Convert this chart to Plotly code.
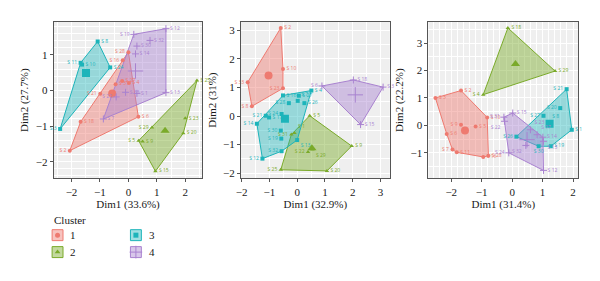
import plotly.graph_objects as go

# ---------------- data ----------------
# Panel 1: Dim1 (33.6%) / Dim2 (27.7%)
p1_c1_lab = ["S 28", "S 16", "S 27", "S 4", "S 31", "S 21", "S 18", "S 2", "S 6"]
p1_c1_x = [0.0, -0.20, -0.22, 0.02, -0.45, -0.99, -1.68, -2.06, 0.35]
p1_c1_y = [1.08, 0.85, 0.27, 0.21, 0.18, -0.09, -0.88, -1.69, -0.74]
p1_c2_lab = ["S 25", "S 23", "S 20", "S 15", "S 5", "S 9", "S 29"]
p1_c2_x = [2.41, 2.00, 1.93, 0.95, 0.36, 0.50, 0.83]
p1_c2_y = [0.28, -0.78, -1.20, -2.27, -1.41, -1.43, -1.04]
p1_c3_lab = ["S 8", "S 11", "S 10", "S 24", "S 3"]
p1_c3_x = [-1.08, -1.68, -1.63, -0.64, -2.40]
p1_c3_y = [1.38, 0.78, 0.73, 0.65, -1.08]
p1_c4_lab = ["S 19", "S 12", "S 32", "S 30", "S 14", "S 13", "S 1", "S 7", "S 22", "S 33"]
p1_c4_x = [0.19, 1.32, 0.76, 0.30, 0.25, 1.32, 0.30, -0.88, -0.43, -0.10]
p1_c4_y = [1.58, 1.74, 1.41, 1.25, 1.03, -0.06, -0.08, -0.80, -0.18, -0.05]
p1_cent_x = [-0.57, 1.29, -1.49, 0.25]
p1_cent_y = [-0.08, -1.13, 0.49, 0.55]

# Panel 2: Dim1 (32.9%) / Dim2 (31%)
p2_c1_lab = ["S 2", "S 10", "S 23", "S 8", "S 33"]
p2_c1_x = [-0.59, -0.51, -0.51, -1.63, -1.78]
p2_c1_y = [3.08, 1.64, 0.97, 0.34, 1.18]
p2_c2_lab = ["S 5", "S 9", "S 20", "S 25", "S 31", "S 1", "S 22", "S 29"]
p2_c2_x = [0.45, 1.96, 1.07, -0.59, -0.21, -0.10, 0.39, 0.55]
p2_c2_y = [0.01, -1.05, -1.92, -1.88, -0.65, -0.59, -1.26, -1.17]
p2_c3_lab = ["S 4", "S 16", "S 27", "S 28", "S 7", "S 26", "S 24", "S 21",
             "S 17", "S 14", "S 30", "S 19", "S 32", "S 12", "S 13"]
p2_c3_x = [0.51, -0.51, 0.06, -0.30, 0.02, 0.26, -0.56, -1.13,
           -1.01, -1.45, -0.59, -0.57, -0.56, -1.25, 0.00]
p2_c3_y = [0.89, 0.72, 0.71, 0.45, 0.53, 0.45, 0.07, 0.01,
           -0.05, -0.27, -0.51, -0.79, -1.23, -1.49, -0.84]
p2_c4_lab = ["S 6", "S 18", "S 3", "S 15"]
p2_c4_x = [0.89, 2.02, 3.09, 2.28]
p2_c4_y = [1.05, 1.26, 1.01, -0.30]
p2_cent_x = [-1.03, 0.53, -0.44, 2.09]
p2_cent_y = [1.42, -1.13, -0.10, 0.74]

# Panel 3: Dim1 (31.4%) / Dim2 (22.2%)
p3_c1_lab = ["S 3", "S 2", "S 10", "S 28", "S 16", "S 11", "S 7", "S 6", "S 9", "S 5"]
p3_c1_x = [-2.52, -1.68, -0.82, -0.78, -0.95, -1.82, -1.96, -2.15, -1.68, -1.20]
p3_c1_y = [1.00, 1.27, 0.29, -1.11, -1.15, -0.98, -0.88, -0.31, 0.02, -0.04]
p3_c2_lab = ["S 18", "S 29", "S 4"]
p3_c2_x = [-0.14, 1.41, -0.95]
p3_c2_y = [3.55, 1.98, 1.12]
p3_c3_lab = ["S 21", "S 1", "S 19", "S 30", "S 26", "S 27", "S 20", "S 8"]
p3_c3_x = [1.79, 1.96, 1.27, 0.87, 0.14, 1.03, 1.58, 1.20]
p3_c3_y = [1.32, -0.16, -0.76, -0.76, -0.41, 0.35, 0.63, 0.11]
p3_c4_lab = ["S 31", "S 15", "S 22", "S 24", "S 12", "S 23", "S 17", "S 14", "S 13", "S 32"]
p3_c4_x = [-0.27, 0.02, -0.25, -0.11, 1.03, 0.60, 0.82, 1.01, 1.03, 0.45]
p3_c4_y = [0.30, 0.45, 0.15, -1.00, -1.64, -0.16, -0.34, -0.43, -0.58, -0.73]
p3_cent_x = [-1.55, 0.11, 1.23, 0.49]
p3_cent_y = [-0.19, 2.24, 0.06, -0.52]

axis_titles = [("Dim1 (33.6%)", "Dim2 (27.7%)"),
               ("Dim1 (32.9%)", "Dim2 (31%)"),
               ("Dim1 (31.4%)", "Dim2 (22.2%)")]
x_ticks = [[-2, -1, 0, 1, 2], [-2, -1, 0, 1, 2, 3], [-2, -1, 0, 1, 2]]
y_ticks = [[-2, -1, 0, 1], [-2, -1, 0, 1, 2, 3], [-1, 0, 1, 2, 3]]
clusters = ["1", "2", "3", "4"]

# ---------------- styling ----------------
COLORS = ["#EE7A70", "#7AAA2A", "#1DB4BA", "#A982D0"]
FILLS = ["rgba(238,122,112,0.45)", "rgba(122,170,42,0.45)",
         "rgba(29,180,186,0.42)", "rgba(169,130,208,0.45)"]
SYMBOLS = ["circle", "triangle-up", "square", "cross-thin"]
SERIF = "Liberation Serif"
INK = "#1a1a1a"

X_RANGES = [[-2.63, 2.60], [-2.02, 3.33], [-2.75, 2.17]]
Y_RANGES = [[-2.47, 1.93], [-2.18, 3.29], [-1.93, 3.77]]
W, H = 600, 281
PX_X = [(49, 199), (238, 388), (427, 578)]
PX_Y = (22, 179)

LEFT_LABELS = {
    (0, "S 19"), (0, "S 2"), (0, "S 3"), (0, "S 11"), (0, "S 28"), (0, "S 16"),
    (0, "S 5"), (0, "S 29"), (0, "S 22"), (0, "S 21"),
    (1, "S 33"), (1, "S 8"), (1, "S 23"), (1, "S 14"), (1, "S 12"), (1, "S 32"),
    (1, "S 30"), (1, "S 19"), (1, "S 24"), (1, "S 28"), (1, "S 21"), (1, "S 25"),
    (1, "S 22"), (1, "S 6"), (1, "S 31"),
    (2, "S 4"), (2, "S 7"), (2, "S 9"), (2, "S 31"), (2, "S 22"), (2, "S 26"),
    (2, "S 32"), (2, "S 24"), (2, "S 27"), (2, "S 20"), (2, "S 21"),
}
OTHER_POS = {
    (1, "S 1"): "top right", (1, "S 13"): "bottom right",
    (1, "S 29"): "bottom right", (1, "S 7"): "top right",
    (2, "S 23"): "top right", (2, "S 13"): "bottom right", (2, "S 17"): "top right",
    (2, "S 30"): "bottom center", (2, "S 8"): "top right", (2, "S 22"): "bottom left",
    (2, "S 32"): "bottom left",
}

panels = [
    [(p1_c1_lab, p1_c1_x, p1_c1_y), (p1_c2_lab, p1_c2_x, p1_c2_y),
     (p1_c3_lab, p1_c3_x, p1_c3_y), (p1_c4_lab, p1_c4_x, p1_c4_y), (p1_cent_x, p1_cent_y)],
    [(p2_c1_lab, p2_c1_x, p2_c1_y), (p2_c2_lab, p2_c2_x, p2_c2_y),
     (p2_c3_lab, p2_c3_x, p2_c3_y), (p2_c4_lab, p2_c4_x, p2_c4_y), (p2_cent_x, p2_cent_y)],
    [(p3_c1_lab, p3_c1_x, p3_c1_y), (p3_c2_lab, p3_c2_x, p3_c2_y),
     (p3_c3_lab, p3_c3_x, p3_c3_y), (p3_c4_lab, p3_c4_x, p3_c4_y), (p3_cent_x, p3_cent_y)],
]


def hull(xs, ys):
    pts = sorted(set(zip(xs, ys)))
    if len(pts) < 3:
        return pts

    def cross(o, a, b):
        return (a[0] - o[0]) * (b[1] - o[1]) - (a[1] - o[1]) * (b[0] - o[0])

    lower, upper = [], []
    for p in pts:
        while len(lower) >= 2 and cross(lower[-2], lower[-1], p) <= 0:
            lower.pop()
        lower.append(p)
    for p in reversed(pts):
        while len(upper) >= 2 and cross(upper[-2], upper[-1], p) <= 0:
            upper.pop()
        upper.append(p)
    return lower[:-1] + upper[:-1]


def label_pos(pi, l):
    if (pi, l) in OTHER_POS:
        return OTHER_POS[(pi, l)]
    return "middle left" if (pi, l) in LEFT_LABELS else "middle right"


fig = go.Figure()

for pi, panel in enumerate(panels):
    sfx = "" if pi == 0 else str(pi + 1)
    xa, ya = "x" + sfx, "y" + sfx
    cent_x, cent_y = panel[4]
    for ci in range(4):
        lab, xs, ys = panel[ci]
        h = hull(xs, ys)
        hx = [p[0] for p in h] + [h[0][0]]
        hy = [p[1] for p in h] + [h[0][1]]
        fig.add_trace(go.Scatter(x=hx, y=hy, mode="lines", fill="toself",
                                 fillcolor=FILLS[ci],
                                 line=dict(color=COLORS[ci], width=1),
                                 xaxis=xa, yaxis=ya, hoverinfo="skip",
                                 showlegend=False))
    for ci in range(4):
        lab, xs, ys = panel[ci]
        pos = [label_pos(pi, l) for l in lab]
        fig.add_trace(go.Scatter(
            x=xs, y=ys, text=lab, mode="markers+text", textposition=pos,
            textfont=dict(family="Open Sans", size=5, color=COLORS[ci]),
            marker=dict(symbol=SYMBOLS[ci], size=4 if ci != 3 else 5,
                        color=COLORS[ci],
                        line=dict(color=COLORS[ci], width=1 if ci == 3 else 0)),
            xaxis=xa, yaxis=ya, showlegend=False, cliponaxis=False))
        fig.add_trace(go.Scatter(
            x=[cent_x[ci]], y=[cent_y[ci]], mode="markers",
            marker=dict(symbol=SYMBOLS[ci], size=8 if ci != 3 else 11,
                        color=COLORS[ci],
                        line=dict(color=COLORS[ci], width=1 if ci == 3 else 0)),
            xaxis=xa, yaxis=ya, showlegend=False))

    x0, x1 = PX_X[pi]
    axis_common = dict(showline=True, mirror=True, linecolor="#555555", linewidth=1,
                       ticks="outside", ticklen=3, tickcolor="#555555",
                       tickfont=dict(family=SERIF, size=11, color=INK),
                       showgrid=True, gridcolor="white", gridwidth=1,
                       zeroline=False,
                       minor=dict(showgrid=True, gridcolor="white", gridwidth=0.5))
    fig.update_layout(**{
        "xaxis" + sfx: dict(domain=[x0 / W, x1 / W], range=X_RANGES[pi],
                            tickvals=x_ticks[pi], anchor=ya,
                            title=dict(text=axis_titles[pi][0], standoff=3,
                                       font=dict(family=SERIF, size=11, color=INK)),
                            **axis_common),
        "yaxis" + sfx: dict(domain=[1 - PX_Y[1] / H, 1 - PX_Y[0] / H], range=Y_RANGES[pi],
                            tickvals=y_ticks[pi], anchor=xa,
                            title=dict(text=axis_titles[pi][1], standoff=4,
                                       font=dict(family=SERIF, size=11, color=INK)),
                            **axis_common),
    })
    fig.add_shape(type="rect", xref=xa + " domain", yref=ya + " domain",
                  x0=0, x1=1, y0=0, y1=1, fillcolor="#EFEFEF",
                  line=dict(width=0), layer="below")

# ---------------- legend (drawn manually, pixel coordinates) ----------------
leg_items = [(53, 236), (53, 253), (132, 236), (132, 253)]
fig.update_layout(
    xaxis4=dict(domain=[0, 1], range=[0, W], visible=False, fixedrange=True, anchor="y4"),
    yaxis4=dict(domain=[0, 1], range=[H, 0], visible=False, fixedrange=True, anchor="x4"),
)
for ci, (cx, cy) in enumerate(leg_items):
    fig.add_shape(type="rect", xref="x4", yref="y4", x0=cx - 5.5, x1=cx + 5.5,
                  y0=cy - 5.5, y1=cy + 5.5, fillcolor=FILLS[ci],
                  line=dict(color=COLORS[ci], width=1))
    fig.add_trace(go.Scatter(x=[cx], y=[cy], mode="markers",
                             marker=dict(symbol=SYMBOLS[ci], size=5 if ci != 3 else 9,
                                         color=COLORS[ci],
                                         line=dict(color=COLORS[ci], width=1 if ci == 3 else 0)),
                             xaxis="x4", yaxis="y4", showlegend=False, hoverinfo="skip"))
    fig.add_annotation(x=cx + 11, y=cy, xref="x4", yref="y4", text=clusters[ci],
                       showarrow=False, xanchor="left", yanchor="middle",
                       font=dict(family=SERIF, size=11, color=INK))
fig.add_annotation(x=47, y=221, xref="x4", yref="y4", text="Cluster", showarrow=False,
                   xanchor="left", yanchor="middle",
                   font=dict(family=SERIF, size=11, color=INK))

fig.update_layout(width=W, height=H, margin=dict(l=0, r=0, t=0, b=0),
                  paper_bgcolor="white", plot_bgcolor="rgba(0,0,0,0)",
                  showlegend=False)

fig.write_html("out.html")
